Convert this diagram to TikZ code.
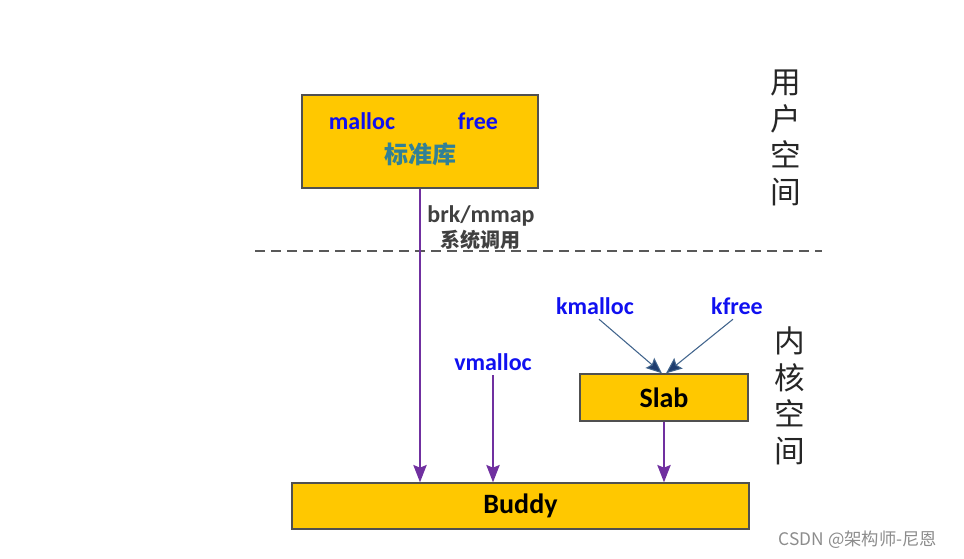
\documentclass[tikz,border=0pt]{standalone}
\usepackage{fontspec}
\setmainfont{Carlito}
\newfontfamily\cjk{Noto Sans CJK SC}
\usetikzlibrary{arrows.meta,positioning}

\definecolor{boxfill}{RGB}{255,200,0}
\definecolor{boxline}{RGB}{80,80,80}
\definecolor{callblue}{RGB}{16,16,240}
\definecolor{libteal}{RGB}{49,128,150}
\definecolor{callarrow}{RGB}{112,48,160}
\definecolor{slabarrow}{RGB}{65,100,140}
\definecolor{headblue}{RGB}{30,60,110}

\tikzset{
  layer/.style={draw=boxline, line width=1pt, fill=boxfill},
  fname/.style={text=callblue, font=\bfseries\fontsize{18}{21}\selectfont},
  syscall/.style={line width=1.3pt, draw=callarrow, -{Stealth[length=13pt, width=10pt, inset=2pt]}},
  slabcall/.style={line width=0.8pt, draw=slabarrow, -{Stealth[length=12pt, width=10pt, inset=2pt, fill=headblue]}},
  spacename/.style={font=\cjk\fontsize{23}{27.5}\selectfont, align=center, text=black!85}
}

\begin{document}
\begin{tikzpicture}[x=0.75pt, y=-0.75pt]
  \useasboundingbox (0,0) rectangle (964,559);

  % user space: standard library
  \node[layer, minimum width=177pt, minimum height=69.75pt] (lib) at (420,141.5) {};
  \node[fname] (malloc) at (362,121) {malloc};
  \node[fname] (free) at (478,121) {free};
  \node[font=\cjk\bfseries\fontsize{18}{22}\selectfont, text=libteal] (stdlib) at (420,154) {标准库};

  % kernel space boxes
  \node[layer, minimum width=126pt, minimum height=35.25pt,
        font=\bfseries\fontsize{21}{24}\selectfont] (slab) at (664,397.5) {Slab};
  \node[layer, minimum width=342.75pt, minimum height=34.5pt,
        font=\bfseries\fontsize{21}{24}\selectfont] (buddy) at (520.5,506) {Buddy};

  % boundary between user and kernel space
  \coordinate (bl) at (255,251);
  \coordinate (br) at (822,251);
  \draw[draw=black!65, line width=1pt, dash pattern=on 7.5pt off 4.5pt] (bl) -- (br);

  \node[spacename] (user) at (786,138) {用\\户\\空\\间};
  \node[spacename] (kernel) at (790,396) {内\\核\\空\\间};

  % system call from the library
  \node[font=\bfseries\fontsize{18}{21}\selectfont, text=black!75] (brk) at (481,216) {brk/mmap};
  \node[font=\cjk\bfseries\fontsize{15}{18}\selectfont, text=black!75] (sys) at (480,240) {系统调用};
  \draw[syscall] (lib.south) -- (buddy.north -| lib.south);

  % vmalloc
  \node[fname] (vm) at (493,362) {vmalloc};
  \draw[syscall] (vm.south) -- (buddy.north -| vm.south);

  % kmalloc / kfree into slab
  \node[fname] (km) at (595,306) {kmalloc};
  \node[fname] (kf) at (737,306) {kfree};
  \draw[slabcall] ([xshift=3pt]km.south) -- ([xshift=-1.5pt]slab.north);
  \draw[slabcall] ([xshift=-3pt]kf.south) -- ([xshift=1.5pt]slab.north);
  \draw[syscall] (slab.south) -- (buddy.north -| slab.south);

  \node[font=\cjk\fontsize{13}{16}\selectfont, text=black!45] (mark) at (858,540) {CSDN @架构师-尼恩};
\end{tikzpicture}
\end{document}
